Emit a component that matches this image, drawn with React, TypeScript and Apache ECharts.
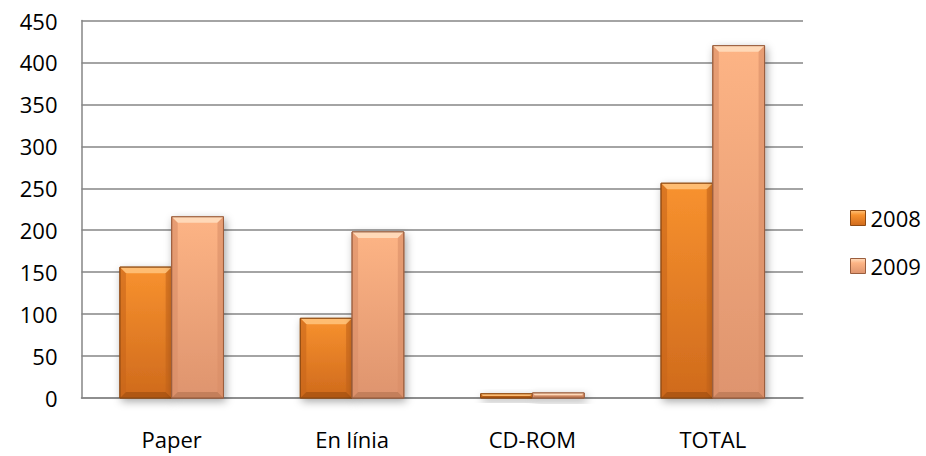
import React, { useEffect, useRef } from "react";
import * as echarts from "echarts";

const categories = ["Paper", "En línia", "CD-ROM", "TOTAL"];
const seriesNames = ["2008", "2009"];
const values2008 = [156, 95, 5, 256];
const values2009 = [216, 198, 6, 420];
const yTicks = { min: 0, max: 450, interval: 50 };

const palettes = [
  {
    top: "#F8922F",
    bottom: "#CF6A1C",
    bevelTop: "#FFC27A",
    side: "#C8651A",
    bevelBottom: "#A3500F",
    stroke: "#8F4A12",
  },
  {
    top: "#FDB485",
    bottom: "#DE946E",
    bevelTop: "#FFDDBE",
    side: "#D88E68",
    bevelBottom: "#B87652",
    stroke: "#9A5E3E",
  },
];

const FONT = "'Open Sans', 'Noto Sans', sans-serif";

function makeRenderItem(idx: number) {
  const p = palettes[idx];
  return (params: any, api: any) => {
    const cat = api.value(0);
    const val = api.value(1);
    const base = api.coord([cat, 0]);
    const top = api.coord([cat, val]);
    const band = api.size([1, 0])[0];
    const w = band * 0.287;
    const x = base[0] + (idx === 0 ? -w : 0);
    const y = top[1];
    const h = base[1] - top[1];
    const b = Math.max(0.5, Math.min(6, h / 2, w / 2));
    const fill = new echarts.graphic.LinearGradient(0, 0, 0, 1, [
      { offset: 0, color: p.top },
      { offset: 1, color: p.bottom },
    ]);
    return {
      type: "group",
      children: [
        {
          type: "rect",
          shape: { x, y, width: w, height: h },
          style: {
            fill,
            stroke: p.stroke,
            lineWidth: 1,
            shadowBlur: 8,
            shadowColor: "rgba(0,0,0,0.35)",
            shadowOffsetX: 2,
            shadowOffsetY: 3,
          },
        },
        {
          type: "polygon",
          shape: {
            points: [
              [x, y],
              [x + w, y],
              [x + w - b, y + b],
              [x + b, y + b],
            ],
          },
          style: { fill: p.bevelTop, opacity: 0.9 },
        },
        {
          type: "polygon",
          shape: {
            points: [
              [x, y],
              [x + b, y + b],
              [x + b, y + h - b],
              [x, y + h],
            ],
          },
          style: { fill: p.side, opacity: 0.6 },
        },
        {
          type: "polygon",
          shape: {
            points: [
              [x + w, y],
              [x + w - b, y + b],
              [x + w - b, y + h - b],
              [x + w, y + h],
            ],
          },
          style: { fill: p.side, opacity: 0.6 },
        },
        {
          type: "polygon",
          shape: {
            points: [
              [x, y + h],
              [x + b, y + h - b],
              [x + w - b, y + h - b],
              [x + w, y + h],
            ],
          },
          style: { fill: p.bevelBottom, opacity: 0.7 },
        },
        {
          type: "rect",
          shape: { x, y, width: w, height: h },
          style: { fill: "none", stroke: p.stroke, lineWidth: 1 },
        },
      ],
    };
  };
}

export default function App() {
  const ref = useRef<HTMLDivElement>(null);
  useEffect(() => {
    if (!ref.current) return;
    const chart = echarts.init(ref.current, undefined, { renderer: "svg" });
    const allValues = [values2008, values2009];
    chart.setOption({
      animation: false,
      backgroundColor: "#ffffff",
      textStyle: { fontFamily: FONT },
      grid: { left: 81.5, right: 123, top: 20.5, bottom: 58, containLabel: false },
      legend: {
        orient: "vertical",
        left: 845,
        top: 202,
        itemWidth: 15,
        itemHeight: 15,
        itemGap: 26,
        textStyle: { fontSize: 22, lineHeight: 22, color: "#000", fontFamily: FONT },
        data: seriesNames.map((n, i) => ({
          name: n,
          icon: "rect",
          itemStyle: {
            color: new echarts.graphic.LinearGradient(0, 0, 0, 1, [
              { offset: 0, color: palettes[i].bevelTop },
              { offset: 0.3, color: palettes[i].top },
              { offset: 1, color: palettes[i].bottom },
            ]),
            borderColor: palettes[i].stroke,
            borderWidth: 1,
          },
        })),
      },
      xAxis: {
        type: "category",
        data: categories,
        axisLine: { show: true, lineStyle: { color: "#868686", width: 1.5 } },
        axisTick: { show: false },
        axisLabel: { fontSize: 22, color: "#000", margin: 30, fontFamily: FONT },
        splitLine: { show: false },
      },
      yAxis: {
        type: "value",
        min: yTicks.min,
        max: yTicks.max,
        interval: yTicks.interval,
        axisLine: { show: true, lineStyle: { color: "#868686", width: 1.5 } },
        axisTick: { show: false },
        axisLabel: { fontSize: 22, color: "#000", margin: 24, fontFamily: FONT },
        splitLine: { show: true, lineStyle: { color: "#868686", width: 1.5 } },
      },
      series: seriesNames.map((name, i) => ({
        name,
        type: "custom",
        renderItem: makeRenderItem(i),
        itemStyle: { color: palettes[i].top },
        encode: { x: 0, y: 1 },
        data: allValues[i].map((v, c) => [c, v]),
        z: 3,
      })),
    });
    return () => chart.dispose();
  }, []);
  return (
    <div
      ref={ref}
      style={{ position: "absolute", left: 0, top: 0, width: 926, height: 456 }}
    />
  );
}
